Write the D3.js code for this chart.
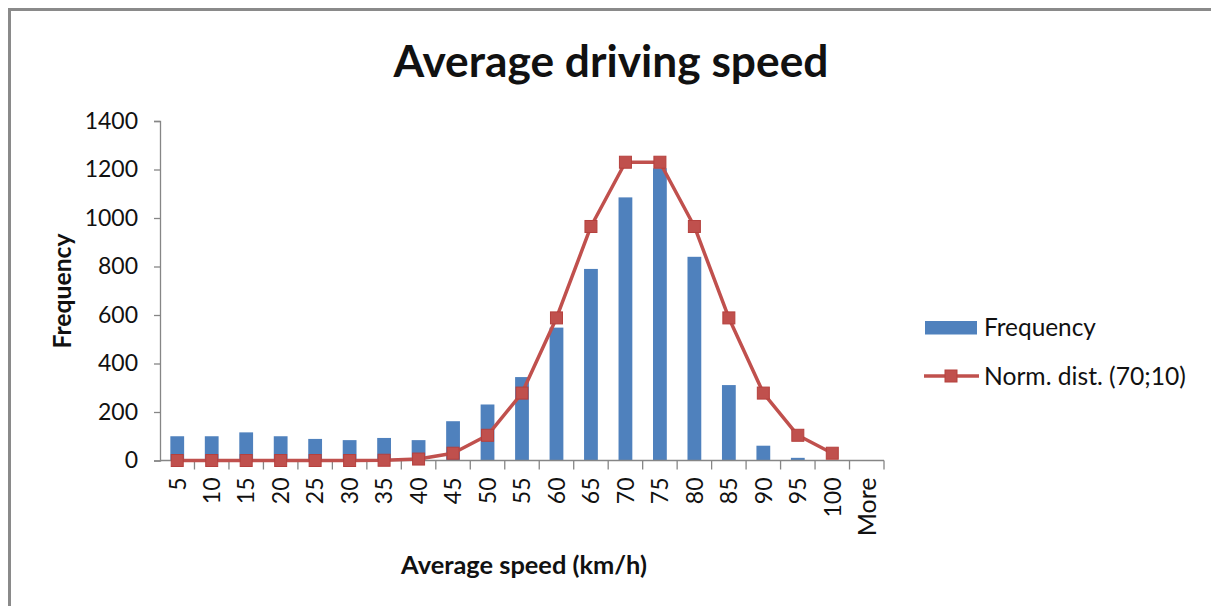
<!DOCTYPE html>
<html>
<head>
<meta charset="utf-8">
<script src="https://cdn.jsdelivr.net/npm/d3@7"></script>
<style>
  html, body { margin: 0; padding: 0; background: #fff; }
  svg { display: block; }
  text { font-family: Lato, "Liberation Sans", sans-serif; fill: #111; }
</style>
</head>
<body>
<svg id="chart" width="1211" height="606"></svg>
<script>
// Speed bins (km/h, upper bound of each bin)
const categories = ["5","10","15","20","25","30","35","40","45","50","55","60","65","70","75","80","85","90","95","100","More"];
// Observed counts per bin
const frequency = [100,100,116,100,89,84,93,84,162,231,344,548,790,1085,1205,840,311,61,11,0,0];
// Expected counts from a normal distribution (mean 70, sd 10); no value for "More"
const normDist = [0,0,0,0,0,0,1,6,30,104,278,588,965,1230,1230,965,588,278,104,30,null];
const yTicks = [0,200,400,600,800,1000,1200,1400];

const svg = d3.select("#chart");
const W = 1211, H = 606;

// Outer frame
svg.append("rect")
  .attr("x", 9.5).attr("y", 9.5)
  .attr("width", W + 20).attr("height", H + 20)
  .attr("fill", "none").attr("stroke", "#8a8a8a").attr("stroke-width", 3);

const plot = { left: 160, right: 884, top: 121, bottom: 460.5 };

const x = d3.scaleBand().domain(categories).range([plot.left, plot.right]).paddingInner(0).paddingOuter(0);
const y = d3.scaleLinear().domain([0, 1400]).range([plot.bottom, plot.top]);

const axisColor = "#868686";

// Fit a text element to a given width by scaling its font size
function fitWidth(sel, base, width) {
  const w = sel.node().getComputedTextLength();
  sel.attr("font-size", base * width / w);
}

// Y axis
const yAxis = svg.append("g")
  .attr("transform", `translate(${plot.left},0)`)
  .call(d3.axisLeft(y).tickValues(yTicks).tickSize(6).tickPadding(16).tickFormat(d3.format("d")));
yAxis.select(".domain").attr("stroke", axisColor).attr("stroke-width", 1.3);
yAxis.selectAll(".tick line").attr("stroke", axisColor).attr("stroke-width", 1.3);
yAxis.selectAll(".tick text").attr("font-size", 23).attr("fill", "#111")
  .style("font-family", "Lato, 'Liberation Sans', sans-serif");

// Bars (gap width 150%)
const barW = x.bandwidth() / 2.5;
svg.append("g").selectAll("rect")
  .data(categories.map((c, i) => ({ c, v: frequency[i] })))
  .join("rect")
  .attr("x", d => x(d.c) + (x.bandwidth() - barW) / 2)
  .attr("y", d => y(d.v))
  .attr("width", barW)
  .attr("height", d => y(0) - y(d.v))
  .attr("fill", "#4F81BD");

// X axis with ticks between categories
const xg = svg.append("g");
xg.append("line")
  .attr("x1", plot.left).attr("x2", plot.right)
  .attr("y1", plot.bottom).attr("y2", plot.bottom)
  .attr("stroke", axisColor).attr("stroke-width", 1.3);
const bounds = categories.map(c => x(c)).concat([plot.right]).slice(1);
xg.selectAll("line.tk").data(bounds).join("line")
  .attr("class", "tk")
  .attr("x1", d => d).attr("x2", d => d)
  .attr("y1", plot.bottom).attr("y2", plot.bottom + 9)
  .attr("stroke", axisColor).attr("stroke-width", 1.3);
xg.selectAll("text").data(categories).join("text")
  .attr("transform", d => `translate(${x(d) + x.bandwidth() / 2},${plot.bottom + 17}) rotate(-90)`)
  .attr("text-anchor", "end")
  .attr("dy", "0.36em")
  .attr("font-size", d => d === "More" ? 25 : 23)
  .text(d => d);

// Normal distribution line with square markers
const pts = categories.map((c, i) => ({ c, v: normDist[i] })).filter(d => d.v !== null);
const line = d3.line().x(d => x(d.c) + x.bandwidth() / 2).y(d => y(d.v));
const red = "#C0504D";
svg.append("path").datum(pts)
  .attr("d", line)
  .attr("fill", "none").attr("stroke", red).attr("stroke-width", 3.5)
  .attr("stroke-linejoin", "round");
const ms = 12;
svg.append("g").selectAll("rect").data(pts).join("rect")
  .attr("x", d => x(d.c) + x.bandwidth() / 2 - ms / 2)
  .attr("y", d => y(d.v) - ms / 2)
  .attr("width", ms).attr("height", ms)
  .attr("fill", red).attr("stroke", "#B5403D").attr("stroke-width", 1);

// Title
const title = svg.append("text")
  .attr("x", 611).attr("y", 77)
  .attr("text-anchor", "middle")
  .attr("font-size", 44).attr("font-weight", "bold")
  .text("Average driving speed");
fitWidth(title, 44, 435);

// Axis titles
const yTitle = svg.append("text")
  .attr("transform", "translate(71,291) rotate(-90)")
  .attr("text-anchor", "middle")
  .attr("font-size", 25).attr("font-weight", "bold")
  .text("Frequency");
fitWidth(yTitle, 25, 115);
const xTitle = svg.append("text")
  .attr("x", 524).attr("y", 574)
  .attr("text-anchor", "middle")
  .attr("font-size", 25).attr("font-weight", "bold")
  .attr("fill", "#2a2a2a")
  .text("Average speed (km/h)");
fitWidth(xTitle, 25, 246);

// Legend
const lg = svg.append("g");
lg.append("rect").attr("x", 925).attr("y", 321).attr("width", 52).attr("height", 13.5).attr("fill", "#4F81BD");
const l1 = lg.append("text").attr("x", 984).attr("y", 336).attr("font-size", 24).text("Frequency");
fitWidth(l1, 24, 112);
lg.append("line").attr("x1", 924).attr("x2", 979).attr("y1", 376).attr("y2", 376)
  .attr("stroke", red).attr("stroke-width", 3.5);
lg.append("rect").attr("x", 951 - ms / 2).attr("y", 376 - ms / 2).attr("width", ms).attr("height", ms)
  .attr("fill", red).attr("stroke", "#B5403D").attr("stroke-width", 1);
const l2 = lg.append("text").attr("x", 984).attr("y", 385).attr("font-size", 24).text("Norm. dist. (70;10)");
fitWidth(l2, 24, 202);
</script>
</body>
</html>
